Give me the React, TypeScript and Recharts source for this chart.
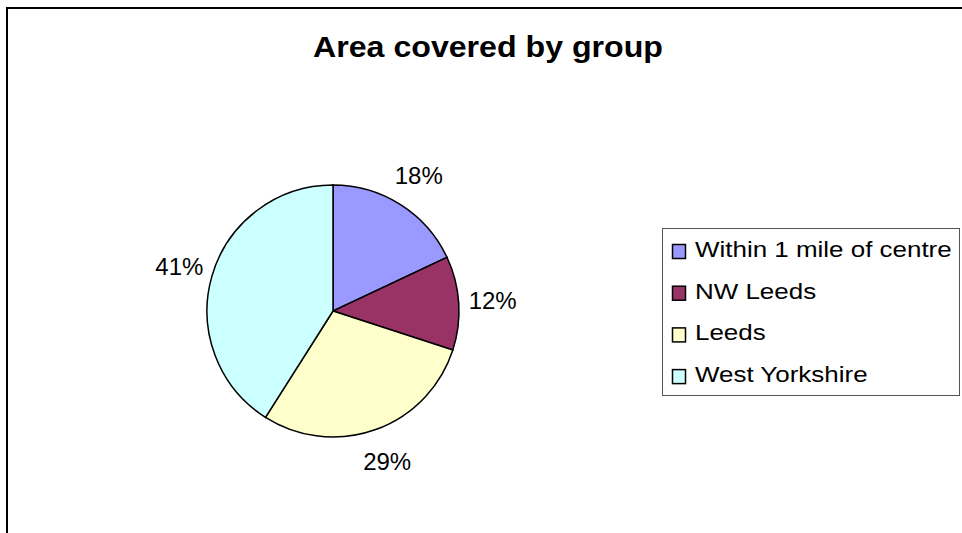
import React from 'react';
import { PieChart, Pie, Cell, Legend } from 'recharts';

const categories = ['Within 1 mile of centre', 'NW Leeds', 'Leeds', 'West Yorkshire'];
const shares = [18, 12, 29, 41];
const colors = ['#9999FF', '#993366', '#FFFFCC', '#CCFFFF'];
const title = 'Area covered by group';

const data = categories.map((name, i) => ({ name, value: shares[i] }));

const RAD = Math.PI / 180;

const renderLabel = (props: any) => {
  const { cx, cy, midAngle, outerRadius, value } = props;
  const r = outerRadius + 34;
  const x = cx + r * Math.cos(-midAngle * RAD);
  const y = cy + r * Math.sin(-midAngle * RAD);
  return (
    <text
      x={x}
      y={y}
      textAnchor="middle"
      dominantBaseline="central"
      fontFamily="'Liberation Sans', Arial, sans-serif"
      fontSize={24}
      fill="#000"
    >
      {`${value}%`}
    </text>
  );
};

const LegendContent = () => {
  return (
    <svg width={298} height={168} style={{ display: 'block' }}>
      <rect x={0.5} y={0.5} width={297} height={167} fill="#fff" stroke="#555" strokeWidth={1} />
      {categories.map((name, i) => {
        const base = 29 + i * 41.7;
        return (
          <g key={name}>
            <rect x={10.5} y={base - 12.5} width={13} height={14} fill={colors[i]} stroke="#000" strokeWidth={1.5} />
            <text
              transform={`translate(33, ${base}) scale(1.18, 1)`}
              fontFamily="'Liberation Sans', Arial, sans-serif"
              fontSize={22}
              fill="#000"
            >
              {name}
            </text>
          </g>
        );
      })}
    </svg>
  );
};

export default function App() {
  return (
    <div
      style={{
        position: 'fixed',
        left: 0,
        top: 0,
        width: 962,
        height: 533,
        overflow: 'hidden',
        background: '#fff',
      }}
    >
      <div
        style={{
          position: 'absolute',
          left: 6,
          top: 7,
          width: 1000,
          height: 600,
          borderLeft: '2px solid #000',
          borderTop: '2px solid #000',
          boxSizing: 'border-box',
        }}
      />
      <div style={{ position: 'absolute', left: 0, top: 0 }}>
        <PieChart width={962} height={533} margin={{ top: 0, right: 0, bottom: 0, left: 0 }}>
          <Pie
            data={data}
            dataKey="value"
            nameKey="name"
            cx={333}
            cy={311}
            outerRadius={126}
            startAngle={90}
            endAngle={-270}
            stroke="#000"
            strokeWidth={1.5}
            label={renderLabel}
            labelLine={false}
            isAnimationActive={false}
          >
            {data.map((d, i) => (
              <Cell key={d.name} fill={colors[i]} />
            ))}
          </Pie>
          <Legend
            layout="vertical"
            align="right"
            verticalAlign="middle"
            content={<LegendContent />}
            wrapperStyle={{ position: 'absolute', left: 662, top: 228, width: 298, height: 168 }}
          />
        </PieChart>
      </div>
      <svg
        width={962}
        height={533}
        style={{ position: 'absolute', left: 0, top: 0, pointerEvents: 'none' }}
      >
        <text
          x={488}
          y={57}
          textAnchor="middle"
          fontFamily="'Liberation Sans', Arial, sans-serif"
          fontWeight="bold"
          fontSize={29}
          textLength={350}
          lengthAdjust="spacingAndGlyphs"
          fill="#000"
        >
          {title}
        </text>
      </svg>
    </div>
  );
}
